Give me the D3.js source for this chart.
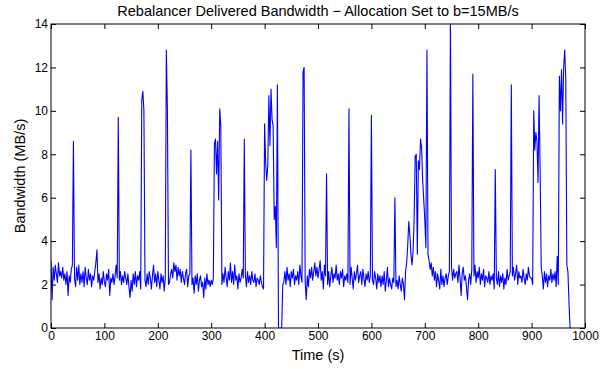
<!DOCTYPE html>
<html>
<head>
<meta charset="utf-8">
<script src="https://cdn.jsdelivr.net/npm/d3@7"></script>
<style>
  body { margin: 0; background: #fff; }
  svg { font-family: "Liberation Sans", Arial, Helvetica, sans-serif; }
</style>
</head>
<body>
<svg id="chart" width="613" height="369"></svg>
<script>
// sample spacing of the bandwidth trace (s)
const sampleStep = 2;

// delivered bandwidth (MB/s), one value every 2 s starting at t = 0
const bandwidth = [
  3.1, 1.3, 2.8, 2.2, 2.9, 2.5, 2.1, 3.0, 2.4, 2.6,
  2.3, 2.8, 2.2, 2.5, 2.0, 2.6, 1.5, 2.4, 2.1, 2.7,
  2.9, 8.6, 2.3, 1.9, 2.8, 2.2, 2.9, 2.0, 2.5, 2.1,
  2.6, 1.9, 2.8, 2.3, 2.0, 2.7, 2.2, 2.5, 1.9, 2.4,
  2.2, 2.6, 3.0, 3.6, 2.1, 2.5, 1.8, 2.3, 2.0, 2.6,
  2.1, 1.9, 2.5, 2.2, 2.7, 1.5, 2.3, 2.1, 2.5, 2.0,
  2.4, 2.9, 2.3, 9.7, 2.2, 2.6, 2.0, 2.4, 2.1, 2.6,
  2.3, 2.0, 2.5, 1.9, 1.4, 2.2, 1.7, 2.5, 2.0, 2.6,
  1.9, 2.4, 2.2, 2.6, 1.8, 10.5, 10.9, 10.0, 2.2, 1.9,
  2.5, 2.0, 2.6, 2.3, 1.8, 2.4, 2.9, 2.1, 2.5, 1.9,
  2.6, 2.2, 1.8, 2.5, 2.1, 2.4, 1.7, 2.3, 12.8, 10.0,
  2.0, 2.1, 2.5, 2.7, 2.3, 3.0, 2.6, 2.9, 2.2, 2.8,
  2.4, 2.7, 2.1, 2.6, 2.3, 2.0, 2.5, 2.7, 1.9, 2.4,
  2.5, 8.2, 2.0, 2.3, 1.6, 2.4, 2.0, 2.5, 1.7, 2.2,
  2.4, 1.9, 2.1, 1.4, 2.3, 1.8, 2.5, 2.0, 2.2, 1.9,
  2.2, 2.0, 2.3, 8.5, 8.7, 7.1, 8.6, 5.9, 10.1, 9.3,
  2.0, 2.5, 2.1, 2.8, 2.3, 1.9, 2.6, 2.2, 3.0, 2.1,
  2.6, 2.0, 2.9, 2.2, 2.4, 1.8, 2.5, 2.1, 2.3, 2.7,
  2.3, 8.7, 2.4, 1.9, 2.6, 2.1, 2.4, 2.0, 2.6, 2.2,
  2.1, 2.5, 1.9, 2.3, 2.2, 2.0, 2.4, 2.1, 1.9, 1.8,
  9.4, 7.6, 6.8, 7.5, 10.7, 8.4, 11.0, 9.6, 9.3, 5.0,
  5.6, 3.7, 11.2, 0, 0, 0, 0, 2.0, 2.1, 2.6,
  2.0, 2.8, 2.2, 2.5, 1.9, 2.6, 2.3, 2.7, 2.0, 2.4,
  2.2, 2.6, 2.0, 2.9, 2.4, 2.1, 11.8, 12.0, 2.1, 1.3,
  2.4, 1.9, 2.7, 2.3, 2.8, 2.2, 2.6, 3.0, 2.4, 2.8,
  2.3, 2.7, 3.1, 2.2, 2.6, 1.8, 2.9, 2.4, 7.1, 2.0,
  2.6, 1.9, 2.4, 2.8, 2.1, 2.5, 2.3, 2.9, 2.2, 2.5,
  2.0, 2.6, 2.3, 2.7, 1.9, 2.4, 2.2, 2.5, 2.1, 10.1,
  2.0, 2.8, 2.3, 1.8, 2.6, 2.2, 2.5, 2.9, 2.1, 2.4,
  2.6, 2.0, 2.7, 2.3, 1.9, 2.5, 2.2, 2.6, 2.1, 2.4,
  9.8, 2.2, 2.0, 2.6, 2.3, 1.8, 2.5, 2.1, 2.4, 1.9,
  2.4, 2.0, 2.6, 1.7, 2.2, 2.8, 1.9, 2.3, 2.0, 1.8,
  2.3, 2.1, 6.0, 1.9, 2.2, 1.8, 2.4, 2.0, 1.7, 2.3,
  2.0, 1.3, 2.6, 3.0, 3.8, 4.9, 4.3, 3.4, 2.9, 3.5,
  5.0, 7.9, 8.0, 3.4, 7.7, 7.3, 8.7, 8.3, 6.8, 5.9,
  5.0, 3.7, 12.8, 3.4, 3.1, 2.7, 3.0, 2.4, 2.8, 2.2,
  2.6, 1.9, 2.5, 2.2, 1.8, 2.7, 2.0, 2.4, 1.9, 2.3,
  2.5, 2.0, 2.4, 2.6, 14.4, 2.8, 2.2, 2.7, 2.3, 2.5,
  2.6, 2.1, 2.9, 2.3, 1.5, 2.5, 2.8, 2.2, 2.4, 1.9,
  1.3, 2.2, 2.5, 2.0, 2.7, 11.7, 2.4, 2.9, 2.1, 2.6,
  2.3, 2.8, 2.0, 2.5, 2.2, 2.7, 1.9, 2.4, 2.3, 2.1,
  2.6, 2.0, 2.4, 2.2, 2.5, 1.8, 7.3, 2.3, 2.0, 2.6,
  1.9, 2.4, 2.1, 2.5, 1.8, 2.3, 2.0, 2.7, 2.2, 2.4,
  2.6, 11.2, 2.4, 2.8, 2.2, 2.5, 2.9, 2.0, 2.6, 2.3,
  2.4, 2.1, 2.7, 2.3, 2.0, 2.5, 2.2, 2.8, 2.4, 2.3,
  2.3, 2.0, 10.0, 8.2, 9.0, 8.6, 6.7, 10.7, 7.2, 2.8,
  2.4, 1.8, 2.6, 2.1, 2.5, 1.9, 2.4, 2.2, 2.7, 2.1,
  2.5, 2.2, 2.6, 1.9, 3.3, 2.0, 11.6, 10.0, 11.9, 9.4,
  12.0, 12.8, 11.5, 2.9, 2.6, 1.2, 0
];

const xTicks = [0, 100, 200, 300, 400, 500, 600, 700, 800, 900, 1000];
const yTicks = [0, 2, 4, 6, 8, 10, 12, 14];

const titleText = "Rebalancer Delivered Bandwidth \u2212 Allocation Set to b=15MB/s";
const xLabel = "Time (s)";
const yLabel = "Bandwidth (MB/s)";

const margin = { top: 24, right: 28, bottom: 41, left: 51 };
const width = 613 - margin.left - margin.right;
const height = 369 - margin.top - margin.bottom;

const svg = d3.select("#chart");
const g = svg.append("g")
  .attr("transform", "translate(" + margin.left + "," + margin.top + ")");

const x = d3.scaleLinear().domain([0, 1000]).range([0, width]);
const y = d3.scaleLinear().domain([0, 14]).range([height, 0]);

// clip the trace to the axes box, like matlab does
svg.append("defs").append("clipPath").attr("id", "plotClip")
  .append("rect").attr("width", width).attr("height", height);

const tickLen = 5;

// bottom axis with labels, ticks pointing in
g.append("g")
  .attr("transform", "translate(0," + height + ")")
  .call(d3.axisBottom(x).tickValues(xTicks).tickSize(-tickLen).tickPadding(3)
    .tickFormat(d3.format("d")))
  .call(a => a.select(".domain").remove());

// top axis, ticks only
g.append("g")
  .call(d3.axisTop(x).tickValues(xTicks).tickSize(-tickLen).tickFormat(""))
  .call(a => a.select(".domain").remove());

// left axis with labels
g.append("g")
  .call(d3.axisLeft(y).tickValues(yTicks).tickSize(-tickLen).tickPadding(3))
  .call(a => a.select(".domain").remove());

// right axis, ticks only
g.append("g")
  .attr("transform", "translate(" + width + ",0)")
  .call(d3.axisRight(y).tickValues(yTicks).tickSize(-tickLen).tickFormat(""))
  .call(a => a.select(".domain").remove());

g.selectAll(".tick line").attr("stroke", "#000").attr("stroke-width", 1);
g.selectAll(".tick text")
  .attr("fill", "#000")
  .style("font-size", "12px");

// the trace
const line = d3.line()
  .x((d, i) => x(i * sampleStep))
  .y(d => y(d));

g.append("path")
  .datum(bandwidth)
  .attr("clip-path", "url(#plotClip)")
  .attr("fill", "none")
  .attr("stroke", "#0000ff")
  .attr("stroke-width", 1.1)
  .attr("stroke-linejoin", "round")
  .attr("d", line);

// axes box
g.append("rect")
  .attr("width", width)
  .attr("height", height)
  .attr("fill", "none")
  .attr("stroke", "#000")
  .attr("stroke-width", 1);

svg.append("text")
  .attr("x", margin.left + width / 2)
  .attr("y", 16)
  .attr("text-anchor", "middle")
  .style("font-size", "14.5px")
  .text(titleText);

svg.append("text")
  .attr("x", margin.left + width / 2)
  .attr("y", 360)
  .attr("text-anchor", "middle")
  .style("font-size", "14.5px")
  .text(xLabel);

svg.append("text")
  .attr("transform", "rotate(-90)")
  .attr("x", -(margin.top + height / 2))
  .attr("y", 25)
  .attr("text-anchor", "middle")
  .style("font-size", "14.5px")
  .text(yLabel);
</script>
</body>
</html>
